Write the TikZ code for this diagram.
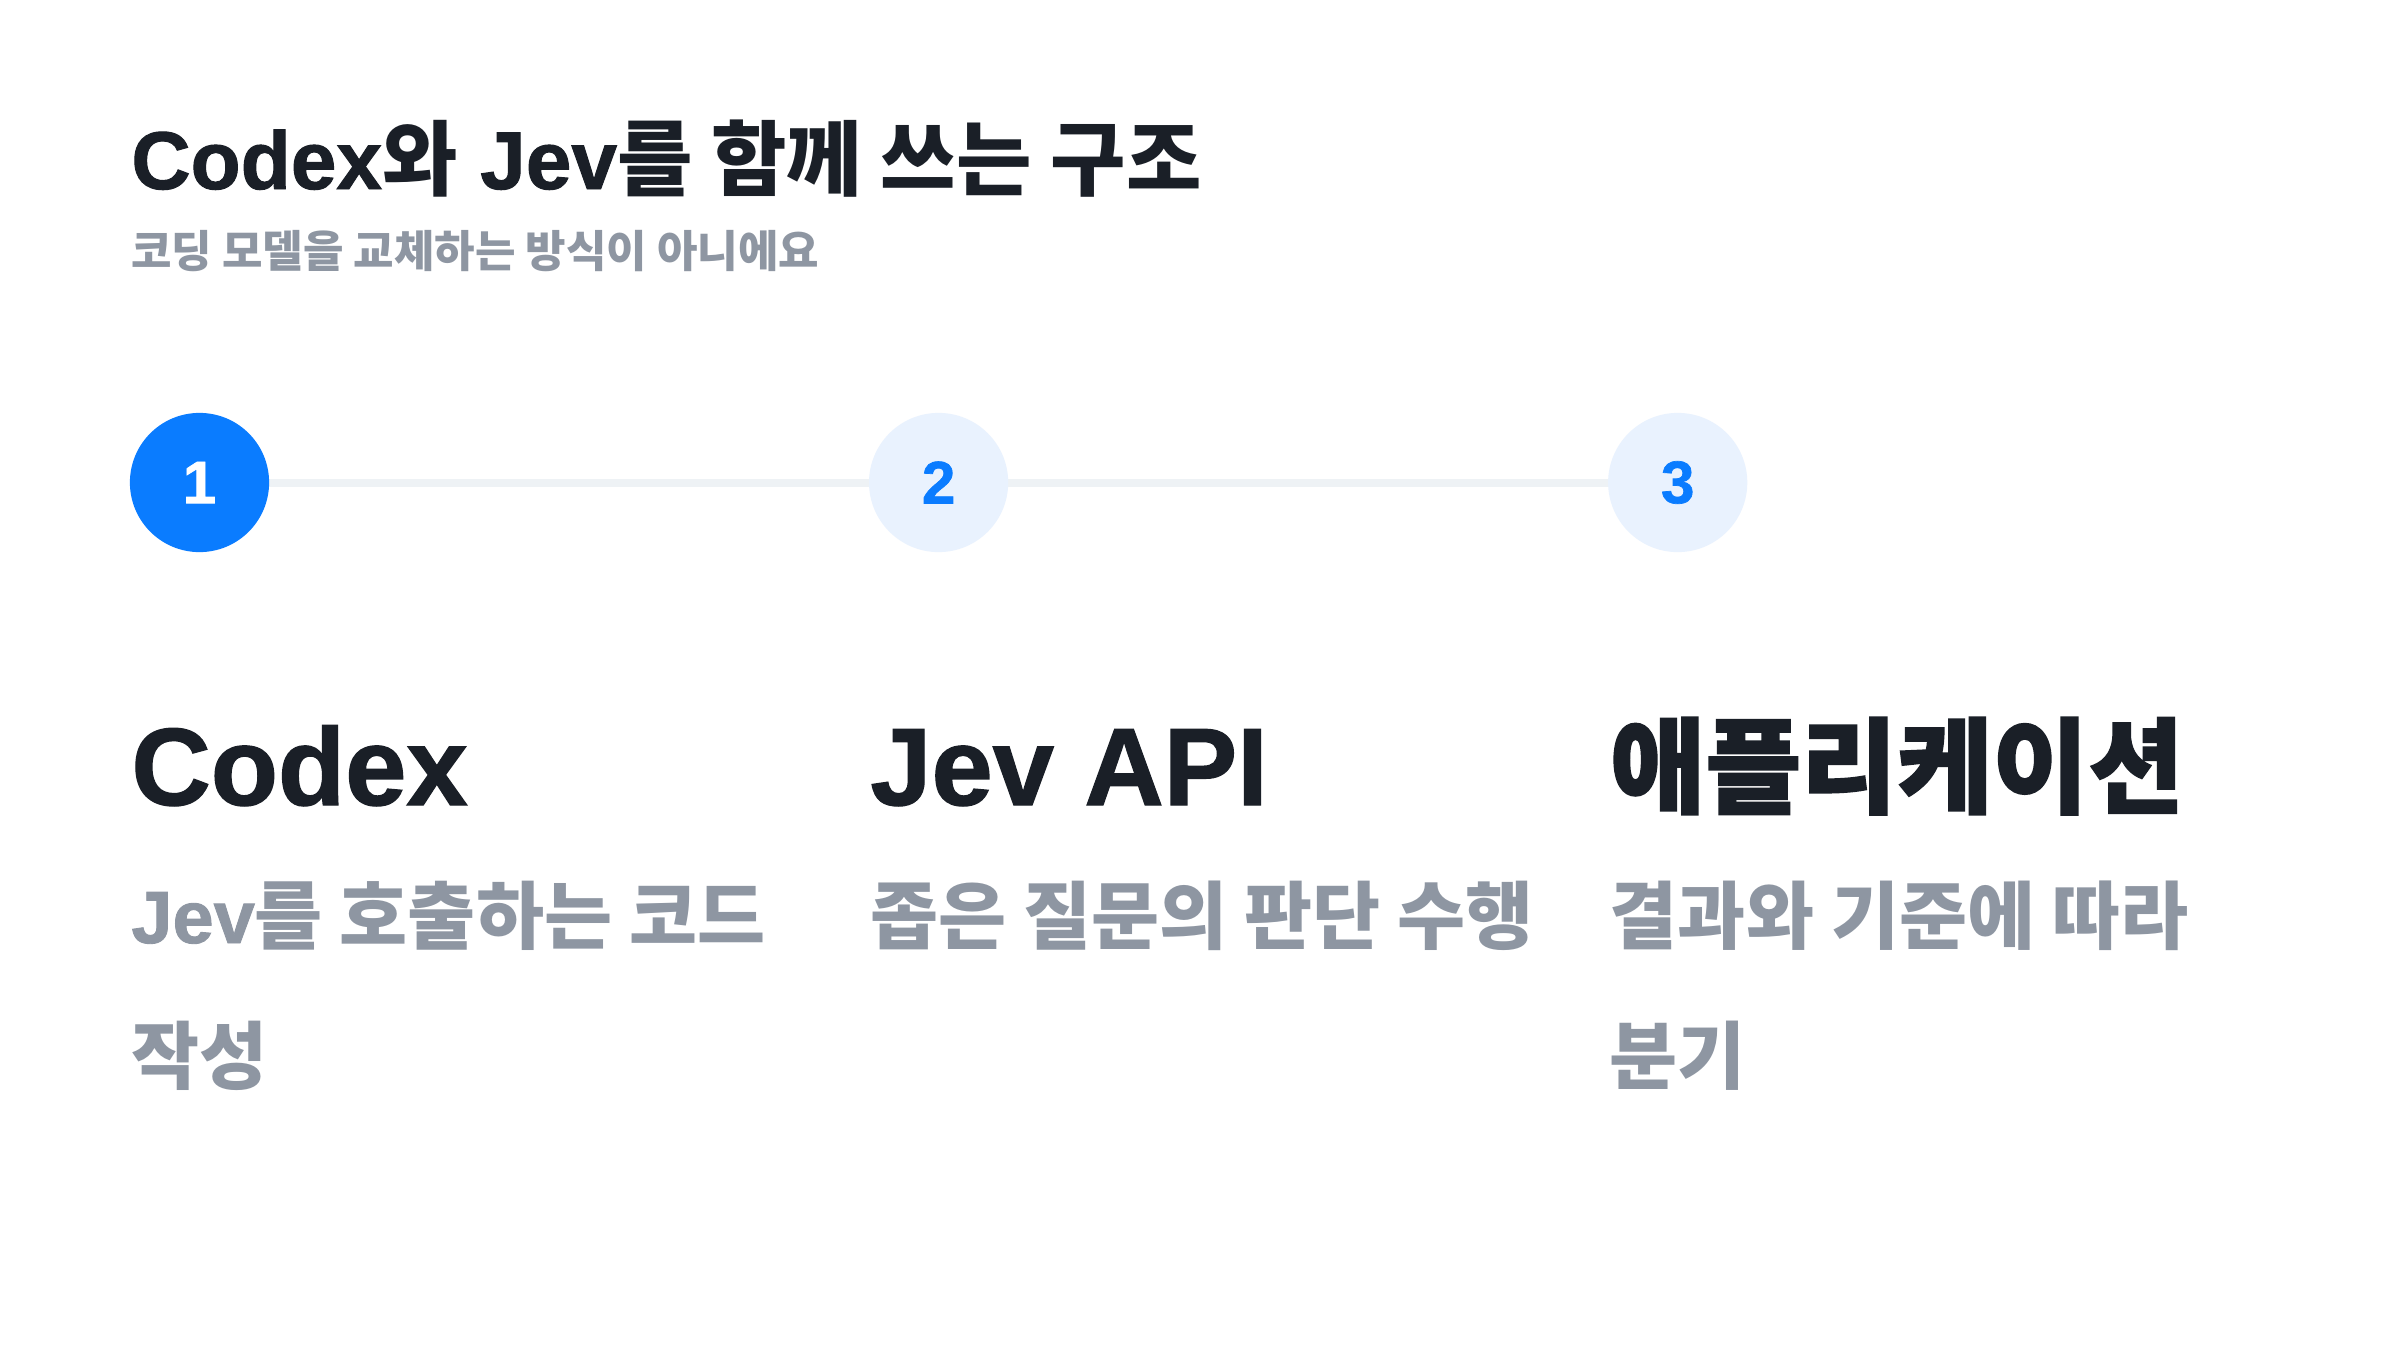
\documentclass[tikz,border=0pt]{standalone}
\usepackage{fontspec}
\setmainfont{Liberation Sans}[BoldFeatures={FakeBold=1.2}]
\newfontfamily\kr{Noto Sans CJK KR}
\newfontfamily\krh{Noto Sans CJK KR}[BoldFeatures={FakeBold=1.5}]
\definecolor{ink}{HTML}{1A1F27}
\definecolor{mute}{HTML}{8E96A2}
\definecolor{blue}{HTML}{0A7CFF}
\definecolor{pale}{HTML}{E9F2FE}
\definecolor{rail}{HTML}{EEF2F5}
\begin{document}
\begin{tikzpicture}[x=0.5pt,y=-0.5pt,
  titlestyle/.style={anchor=base west,inner sep=0pt,text=ink,font=\fontsize{41}{49}\selectfont\bfseries},
  substyle/.style={anchor=base west,inner sep=0pt,text=mute,font=\kr\fontsize{22}{27}\selectfont\bfseries},
  headstyle/.style={anchor=base west,inner sep=0pt,text=ink,font=\fontsize{55}{66}\selectfont\bfseries},
  descstyle/.style={anchor=base west,inner sep=0pt,text=mute,font=\fontsize{37}{44}\selectfont\bfseries},
  krdesc/.style={descstyle,font=\kr\fontsize{37}{44}\selectfont\bfseries},
  stepdone/.style={circle,fill=blue,minimum size=69.6pt,inner sep=0pt,text=white,font=\fontsize{30}{36}\selectfont\bfseries},
  steptodo/.style={circle,fill=pale,minimum size=69.6pt,inner sep=0pt,text=blue,font=\fontsize{30}{36}\selectfont\bfseries},
  railline/.style={draw=rail,line width=4pt}
]
\fill[white] (0,0) rectangle (2400,1350);
\path[use as bounding box] (0,0) rectangle (2400,1350);

\node[titlestyle] (title) at (131,189) {Codex{\kr 와} Jev{\kr 를 함께 쓰는 구조}};
\node[substyle] (sub) at (131,267) {코딩 모델을 교체하는 방식이 아니에요};

\coordinate (c1) at (199.5,482.5);
\coordinate (c2) at (938.6,482.5);
\coordinate (c3) at (1677.7,482.5);
\draw[railline] (c1) -- (c2) -- (c3);
\node[stepdone] (s1) at (c1) {1};
\node[steptodo] (s2) at (c2) {2};
\node[steptodo] (s3) at (c3) {3};

\node[headstyle] (h1) at (131,805) {Codex};
\node[headstyle] (h2) at (870,805) {Jev API};
\node[headstyle,font=\krh\fontsize{52}{62}\selectfont\bfseries] (h3) at (1609.5,805) {애플리케이션};

\node[descstyle] (d1) at (131,943) {Jev{\kr 를 호출하는 코드}};
\node[krdesc] (d1b) at (131,1083) {작성};
\node[krdesc] (d2) at (870,943) {좁은 질문의 판단 수행};
\node[krdesc] (d3) at (1609.5,943) {결과와 기준에 따라};
\node[krdesc] (d3b) at (1609.5,1083) {분기};
\end{tikzpicture}
\end{document}
